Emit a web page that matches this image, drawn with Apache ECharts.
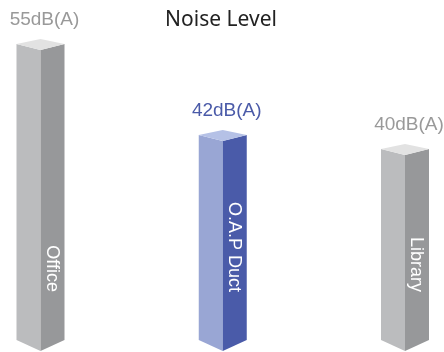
<!DOCTYPE html>
<html>
<head>
<meta charset="utf-8">
<style>
html,body{margin:0;padding:0;background:#fff;}
#chart{width:444px;height:352px;}
</style>
<script src="https://cdn.jsdelivr.net/npm/echarts@6/dist/echarts.min.js"></script>
</head>
<body>
<div id="chart"></div>
<script>
var categories = ['Office', 'O.A.P Duct', 'Library'];
var values = [55, 42, 40];
var valueLabels = ['55dB(A)', '42dB(A)', '40dB(A)'];
var highlight = [false, true, false];

var grey = {left: '#bbbcbe', right: '#97989a', top: '#e2e2e2', label: '#999999'};
var blue = {left: '#99a6d4', right: '#4a5ba9', top: '#b5c1e6', label: '#4a5aa8'};
var baseValue = 12;

var chart = echarts.init(document.getElementById('chart'));
chart.setOption({
  animation: false,
  title: {
    text: 'Noise Level',
    left: 216, top: 5, textAlign: 'center',
    textStyle: {fontFamily: 'Noto Sans', fontSize: 21, fontWeight: 'normal', color: '#222'}
  },
  grid: {left: 40.5, right: 39, top: 15, bottom: 1},
  xAxis: {type: 'category', data: categories, boundaryGap: false, show: false},
  yAxis: {type: 'value', min: baseValue, max: 60, show: false},
  series: [{
    type: 'custom',
    data: values.map(function (v, i) { return [i, v]; }),
    renderItem: function (params, api) {
      var i = api.value(0);
      var p = api.coord([i, api.value(1)]);
      var b = api.coord([i, baseValue]);
      var x = p[0], yt = p[1], yb = b[1];
      var w = 24;
      var c = highlight[i] ? blue : grey;
      return {
        type: 'group',
        children: [
          {type: 'polygon', shape: {points: [[x - w, yt - 6], [x, yt], [x, yb], [x - w, yb - 11]]}, style: {fill: c.left}},
          {type: 'polygon', shape: {points: [[x, yt], [x + w, yt - 6], [x + w, yb - 11], [x, yb]]}, style: {fill: c.right}},
          {type: 'polygon', shape: {points: [[x - w, yt - 6], [x, yt - 11], [x + w, yt - 6], [x, yt]]}, style: {fill: c.top}},
          {type: 'text', x: x + 4, y: yt - 30, style: {text: valueLabels[i], fill: c.label, font: '19px "Liberation Sans"', align: 'center', verticalAlign: 'middle'}},
          {type: 'text', x: x + 11, y: 292, rotation: -Math.PI / 2, style: {text: categories[i], fill: '#ffffff', font: '18px "Liberation Sans"', align: 'right', verticalAlign: 'middle'}}
        ]
      };
    }
  }]
});
</script>
</body>
</html>
